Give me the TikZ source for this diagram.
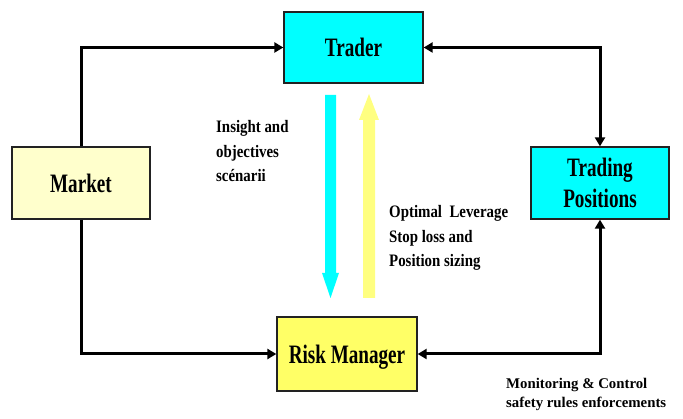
\documentclass[tikz,border=0pt]{standalone}
\usepackage{fontspec}
\setmainfont{Liberation Serif}
\newfontfamily\boxfont{Liberation Serif}[FakeStretch=0.72]
\newfontfamily\notefont{Liberation Serif}[FakeStretch=0.85]
\newfontfamily\plainfont{Liberation Serif}
\usetikzlibrary{arrows.meta}
\definecolor{boxcyan}{HTML}{00FFFF}
\definecolor{paleyellow}{HTML}{FFFFCC}
\definecolor{brightyellow}{HTML}{FFFF66}
\definecolor{fatyellow}{HTML}{FFFF80}
\definecolor{edgegray}{HTML}{222222}
\tikzset{
  unitbox/.style={draw=edgegray, line width=1.3pt, rectangle, inner sep=0pt,
    font=\boxfont\bfseries\fontsize{26.6}{31}\selectfont, align=center},
  conn/.style={line width=3pt, draw=black},
  tip/.style={-{Triangle[length=9pt,width=10pt]}},
  tips/.style={{Triangle[length=9pt,width=10pt]}-{Triangle[length=9pt,width=10pt]}},
  note/.style={inner sep=0pt, align=left, anchor=base west,
    font=\notefont\bfseries\fontsize{17.5}{24.5}\selectfont},
  smallnote/.style={inner sep=0pt, align=left, anchor=base west,
    font=\plainfont\bfseries\fontsize{14.8}{19}\selectfont}
}
\begin{document}
\begin{tikzpicture}[x=1pt,y=-1pt]
\useasboundingbox (0,0) rectangle (683,419);

% boxes
\node[unitbox, fill=boxcyan, minimum width=139pt, minimum height=71pt] (trader) at (353.5,47.5) {Trader};
\node[unitbox, fill=paleyellow, minimum width=138pt, minimum height=72pt] (market) at (81,183) {Market};
\node[unitbox, fill=boxcyan, minimum width=138pt, minimum height=72pt, text depth=0pt] (tp) at (600,183) {Trading\\Positions};
\node[unitbox, fill=brightyellow, minimum width=140pt, minimum height=74pt, text depth=0pt] (risk) at (347,354) {Risk Manager};

% connectors
\draw[conn, tip] (market.north) |- (trader.west);
\draw[conn, tip] (market.south) |- (risk.west);
\draw[conn, tips] (trader.east) -| (tp.north);
\draw[conn, tips] (risk.east) -| (tp.south);

% wide arrows between trader and risk manager
\fill[boxcyan] (325,95) -- (336,95) -- (336,273) -- (339,273) -- (330.5,298)
  -- (322,273) -- (325,273) -- cycle;
\fill[fatyellow] (363,298) -- (375,298) -- (375,120) -- (379,120) -- (369,94)
  -- (359,120) -- (363,120) -- cycle;

% labels (anchored at the baseline of the last line)
\node[note] (insight) at (216,182) {Insight and\\objectives\\scénarii};
\node[note] (optimal) at (389,267) {Optimal~ Leverage\\Stop loss and\\Position sizing};
\node[smallnote] (monitor) at (506,408) {Monitoring \& Control\\safety rules enforcements};
\end{tikzpicture}
\end{document}
